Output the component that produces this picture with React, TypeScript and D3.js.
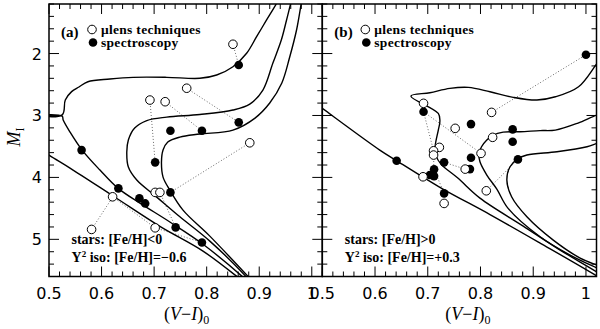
import React from 'react';
import * as d3 from 'd3';

// Y2 isochrones, panel (a) [Fe/H]=-0.6, as [V-I, M_I]
const isoA1 = [[0.47,3.47],[0.5,3.64],[0.54,3.85],[0.622,4.30],[0.711,4.79],[0.793,5.19],[0.859,5.61],[0.872,5.70]];
const isoA2Low = [[0.88,5.70],[0.869,5.61],[0.793,5.08],[0.730,4.72],[0.673,4.415],[0.631,4.173],[0.597,3.882],[0.563,3.559],[0.540,3.268],[0.527,3.074],[0.525,3.01],[0.47,3.0]];
const isoA2High = [[0.47,2.995],[0.525,2.99],[0.531,2.75],[0.543,2.615],[0.557,2.54],[0.574,2.455],[0.616,2.412],[0.660,2.384],[0.724,2.384],[0.787,2.40],[0.819,2.347],[0.850,2.213],[0.876,1.996],[0.895,1.728],[0.914,1.458],[0.933,1.189],[0.938,1.10]];
const isoA3 = [[0.885,5.70],[0.876,5.61],[0.806,5.029],[0.749,4.636],[0.705,4.318],[0.667,4.043],[0.651,3.833],[0.648,3.591],[0.651,3.397],[0.663,3.203],[0.686,3.082],[0.724,3.026],[0.787,2.985],[0.850,2.912],[0.882,2.816],[0.907,2.589],[0.926,2.153],[0.942,1.782],[0.952,1.458],[0.960,1.189],[0.963,1.10]];
const isoA4 = [[0.89,5.70],[0.880,5.61],[0.806,4.948],[0.755,4.528],[0.730,4.205],[0.717,3.995],[0.714,3.752],[0.717,3.559],[0.726,3.429],[0.749,3.349],[0.787,3.300],[0.850,3.236],[0.892,3.042],[0.920,2.799],[0.943,2.476],[0.958,2.056],[0.971,1.620],[0.980,1.189],[0.982,1.10]];

// panel (b) [Fe/H]=+0.3
const isoB1 = [[0.48,2.76],[0.5,2.885],[0.609,3.559],[0.642,3.736],[0.723,4.16],[0.818,4.60],[0.913,5.06],[1.021,5.594],[1.04,5.70]];
const isoB2 = [[1.04,1.95],[1.021,2.158],[0.986,2.536],[0.942,2.698],[0.907,2.751],[0.862,2.707],[0.818,2.617],[0.777,2.546],[0.742,2.562],[0.704,2.633],[0.668,2.686],[0.720,2.966],[0.723,3.09],[0.720,3.236],[0.714,3.505],[0.716,3.656],[0.725,3.785],[0.757,4.011],[0.799,4.334],[0.881,4.786],[0.951,5.174],[1.021,5.529],[1.04,5.64]];
const isoB3 = [[1.04,2.96],[1.021,2.993],[0.985,3.122],[0.942,3.236],[0.913,3.244],[0.875,3.263],[0.843,3.268],[0.824,3.316],[0.812,3.397],[0.802,3.505],[0.797,3.612],[0.799,3.748],[0.812,3.962],[0.831,4.189],[0.852,4.496],[0.913,4.959],[0.970,5.255],[1.021,5.465],[1.04,5.54]];
const isoB4 = [[1.04,3.40],[1.021,3.45],[1.002,3.505],[0.945,3.586],[0.888,3.639],[0.870,3.704],[0.856,3.828],[0.850,4.043],[0.859,4.313],[0.888,4.636],[0.938,5.013],[0.989,5.303],[1.021,5.416],[1.04,5.47]];

// stars: microlensing (open) and spectroscopy (filled)
const lensA = [[0.850,1.85],[0.762,2.56],[0.692,2.751],[0.721,2.778],[0.882,3.441],[0.621,4.313],[0.702,4.242],[0.711,4.242],[0.581,4.84],[0.702,4.814]];
const specA = [[0.861,2.185],[0.861,3.111],[0.731,3.247],[0.791,3.247],[0.562,3.559],[0.702,3.757],[0.632,4.177],[0.672,4.339],[0.683,4.42],[0.731,4.242],[0.741,4.807],[0.791,5.05]];
const linksA = [[0.850,1.85,0.861,2.185],[0.762,2.56,0.861,3.111],[0.692,2.751,0.702,3.757],[0.721,2.778,0.791,3.247],[0.882,3.441,0.731,4.242],[0.581,4.84,0.632,4.177],[0.711,4.242,0.741,4.807],[0.621,4.313,0.702,4.814],[0.702,4.814,0.791,5.05]];

const lensB = [[0.692,2.804],[0.821,2.95],[0.752,3.208],[0.823,3.353],[0.722,3.515],[0.711,3.57],[0.711,3.639],[0.801,3.612],[0.771,3.866],[0.691,3.99],[0.811,4.216],[0.731,4.42]];
const specB = [[1.0,2.02],[0.692,2.94],[0.782,3.139],[0.861,3.224],[0.861,3.425],[0.782,3.683],[0.641,3.732],[0.731,3.757],[0.871,3.709],[0.780,3.866],[0.712,3.87],[0.704,3.962],[0.712,3.979],[0.731,4.258]];
const linksB = [[0.821,2.95,1.0,2.02],[0.692,2.94,0.801,3.612],[0.692,2.94,0.711,3.57],[0.731,3.757,0.771,3.866],[0.811,4.216,0.871,3.709],[0.731,4.258,0.731,4.42],[0.711,3.639,0.712,3.979],[0.712,3.87,0.731,4.258]];

const xTickValues = [0.5, 0.6, 0.7, 0.8, 0.9, 1.0];
const xTickLabels = ['0.5', '0.6', '0.7', '0.8', '0.9', '1'];
const yTickValues = [2, 3, 4, 5];

const TOP = 4, BOTTOM = 276.5;
const yScale = d3.scaleLinear().domain([1.2, 5.6]).range([TOP, BOTTOM]);
const serif = '"Liberation Serif", "Times New Roman", serif';
const sans = '"DejaVu Sans", sans-serif';

function Panel(props) {
  const { id, left, right, tag, curves, lens, spec, links, starsText, isoText, yLabels, titleAt } = props;
  const x = d3.scaleLinear().domain([0.5, 1.02]).range([left, right]);
  const line = d3.line().x(d => x(d[0])).y(d => yScale(d[1])).curve(d3.curveCatmullRom.alpha(0.5));
  const xMinor = d3.range(25, 52).map(i => ({ v: i / 50, major: i % 5 === 0 }));
  const yMinor = d3.range(6, 29).map(i => ({ v: i / 5, major: i % 5 === 0 }));

  return (
    <g>
      <defs>
        <clipPath id={id}>
          <rect x={left} y={TOP} width={right - left} height={BOTTOM - TOP} />
        </clipPath>
      </defs>
      <g clipPath={`url(#${id})`}>
        {links.map((l, i) => (
          <line key={i} x1={x(l[0])} y1={yScale(l[1])} x2={x(l[2])} y2={yScale(l[3])}
            stroke="#444" strokeWidth={0.8} strokeDasharray="1,2" />
        ))}
        {curves.map((c, i) => (
          <path key={i} d={line(c)} fill="none" stroke="#000" strokeWidth={1.4} />
        ))}
      </g>
      {spec.map((p, i) => <circle key={'s' + i} cx={x(p[0])} cy={yScale(p[1])} r={4.3} fill="#000" />)}
      {lens.map((p, i) => <circle key={'l' + i} cx={x(p[0])} cy={yScale(p[1])} r={4.3} fill="#fff" stroke="#000" strokeWidth={1} />)}

      {/* ticks on all four sides, pointing in */}
      {xMinor.map((t, i) => {
        const len = t.major ? 10 : 5;
        return (
          <g key={'x' + i}>
            <line x1={x(t.v)} x2={x(t.v)} y1={BOTTOM} y2={BOTTOM - len} stroke="#000" strokeWidth={1} />
            <line x1={x(t.v)} x2={x(t.v)} y1={TOP} y2={TOP + len} stroke="#000" strokeWidth={1} />
          </g>
        );
      })}
      {yMinor.map((t, i) => {
        const len = t.major ? 10 : 5;
        return (
          <g key={'y' + i}>
            <line x1={left} x2={left + len} y1={yScale(t.v)} y2={yScale(t.v)} stroke="#000" strokeWidth={1} />
            <line x1={right} x2={right - len} y1={yScale(t.v)} y2={yScale(t.v)} stroke="#000" strokeWidth={1} />
          </g>
        );
      })}
      <rect x={left} y={TOP} width={right - left} height={BOTTOM - TOP} fill="none" stroke="#000" strokeWidth={1.5} />

      {xTickValues.map((v, i) => (
        <text key={'xl' + i} x={x(v)} y={298.5} textAnchor="middle" fontFamily={sans} fontSize={16}>{xTickLabels[i]}</text>
      ))}
      {yLabels && yTickValues.map(v => (
        <text key={'yl' + v} x={42} y={yScale(v) + 6} textAnchor="end" fontFamily={sans} fontSize={16}>{v}</text>
      ))}

      {/* legend */}
      <text x={left + 12} y={37} fontFamily={serif} fontWeight="bold" fontSize={15}>{tag}</text>
      <circle cx={left + 43} cy={29.5} r={4.3} fill="#fff" stroke="#000" strokeWidth={1} />
      <text x={left + 52} y={33.5} fontFamily={serif} fontWeight="bold" fontSize={13.5} letterSpacing={0.3}>μlens techniques</text>
      <circle cx={left + 44} cy={42.5} r={4.3} fill="#000" />
      <text x={left + 52} y={46.5} fontFamily={serif} fontWeight="bold" fontSize={13.5} letterSpacing={0.3}>spectroscopy</text>

      <text x={left + 22.5} y={244} fontFamily={serif} fontWeight="bold" fontSize={14}>{starsText}</text>
      <text x={left + 22.5} y={262} fontFamily={serif} fontWeight="bold" fontSize={14}>
        Y<tspan fontSize={9} dy={-5}>2</tspan><tspan dy={5}> iso: {isoText}</tspan>
      </text>

      <text x={x(titleAt)} y={320} textAnchor="middle" fontFamily={serif} fontSize={18}>
        (<tspan fontStyle="italic">V</tspan>−<tspan fontStyle="italic">I</tspan>)<tspan fontSize={12} dy={4}>0</tspan>
      </text>
    </g>
  );
}

export default function App() {
  return (
    <svg width={600} height={329} style={{ position: 'absolute', left: 0, top: 0, background: '#fff' }}>
      <rect width={600} height={329} fill="#fff" />
      <Panel id="clipA" left={49} right={322.3} tag="(a)" titleAt={0.762}
        curves={[isoA1, isoA2Low, isoA2High, isoA3, isoA4]}
        lens={lensA} spec={specA} links={linksA}
        starsText="stars: [Fe/H]<0" isoText="[Fe/H]=−0.6" yLabels={true} />
      <Panel id="clipB" left={322.3} right={596.5} tag="(b)" titleAt={0.776}
        curves={[isoB1, isoB2, isoB3, isoB4]}
        lens={lensB} spec={specB} links={linksB}
        starsText="stars: [Fe/H]>0" isoText="[Fe/H]=+0.3" yLabels={false} />
      <text transform="translate(20,137) rotate(-90)" textAnchor="middle" fontFamily={serif} fontSize={18}>
        <tspan fontStyle="italic">M</tspan><tspan fontSize={12} dy={4}>I</tspan>
      </text>
    </svg>
  );
}
